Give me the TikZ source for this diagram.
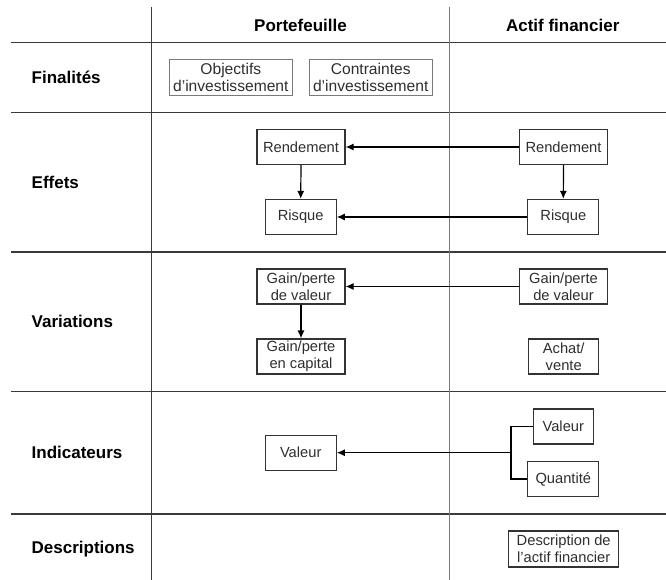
\documentclass[tikz,border=0pt]{standalone}
\usepackage{fontspec}
\setmainfont{Liberation Sans}
\usetikzlibrary{arrows.meta}
\definecolor{gridline}{HTML}{3A3A3A}
\definecolor{gridlight}{HTML}{7A7A7A}
\definecolor{boxline}{HTML}{333333}
\definecolor{boxtext}{HTML}{2E2E2E}
\tikzset{
  gridrule/.style={draw=gridline, line width=1.4pt},
  gridsoft/.style={draw=gridlight, line width=1.4pt},
  entity/.style={draw=boxline, line width=1.2pt, rectangle, inner sep=0pt,
    minimum height=35pt, align=center, text=boxtext,
    font=\fontsize{14.7}{16.7}\selectfont},
  goalbox/.style={entity, draw=gridlight, minimum height=36pt,
    font=\fontsize{15.6}{16.7}\selectfont},
  rowlabel/.style={anchor=west, inner sep=0pt, font=\fontsize{17}{20}\selectfont\bfseries},
  colhead/.style={inner sep=0pt, font=\fontsize{17}{20}\selectfont\bfseries},
  flow/.style={draw=black, line width=1.2pt, -{Latex[length=8pt,width=7pt]}},
  link/.style={draw=black, line width=1.2pt}
}
\begin{document}
\begin{tikzpicture}[x=1pt, y=-1pt]
\useasboundingbox (0,0) rectangle (666,580);

% table rules
\draw[gridrule] (11,42.3) -- (666,42.3);
\draw[gridrule] (11,112.3) -- (666,112.3);
\draw[gridrule] (11,252) -- (666,252);
\draw[gridrule] (11,391.7) -- (666,391.7);
\draw[gridrule] (11,514) -- (666,514);
\draw[gridrule] (151.7,7.5) -- (151.7,580);
\draw[gridsoft] (449.3,7.5) -- (449.3,580);

% column headings
\node[colhead] (hP) at (300.5,25) {Portefeuille};
\node[colhead] (hA) at (562.7,25) {Actif financier};

% row headings
\node[rowlabel] (rFin) at (31.5,77) {Finalités};
\node[rowlabel] (rEff) at (31.5,182) {Effets};
\node[rowlabel] (rVar) at (31.5,321) {Variations};
\node[rowlabel] (rInd) at (31.5,452) {Indicateurs};
\node[rowlabel] (rDes) at (31.5,549) {Descriptions};

% goals
\node[goalbox, minimum width=123pt] (obj) at (230.8,77.5) {Objectifs\\d’investissement};
\node[goalbox, minimum width=123pt] (contr) at (370.7,77.5) {Contraintes\\d’investissement};

% effects
\node[entity, minimum width=88pt] (rendP) at (301,147) {Rendement};
\node[entity, minimum width=88pt] (rendA) at (563.5,147) {Rendement};
\node[entity, minimum width=71pt] (risqP) at (300.7,217) {Risque};
\node[entity, minimum width=71pt] (risqA) at (563.3,217) {Risque};

% variations
\node[entity, minimum width=88pt] (gvP) at (301,286.5) {Gain/perte\\de valeur};
\node[entity, minimum width=88pt] (gvA) at (563.5,286.5) {Gain/perte\\de valeur};
\node[entity, minimum width=88pt] (gcP) at (301,356.5) {Gain/perte\\en capital};
\node[entity, minimum width=70pt] (achat) at (563.7,356.5) {Achat/\\vente};

% indicators
\node[entity, minimum width=71pt] (valP) at (300.7,452.7) {Valeur};
\node[entity, minimum width=60pt] (valA) at (563.3,426.5) {Valeur};
\node[entity, minimum width=71pt] (qte) at (563.3,479) {Quantité};
\coordinate (br) at (511,452.7);

% description
\node[entity, minimum width=110pt, minimum height=36pt] (desc) at (563.7,549) {Description de\\l’actif financier};

% connectors
\draw[flow] (rendA.west) -- (rendP.east);
\draw[flow] (risqA.west) -- (risqP.east);
\draw[flow] (rendP.south) -- (risqP.north);
\draw[flow] (rendA.south) -- (risqA.north);
\draw[flow] (gvA.west) -- (gvP.east);
\draw[flow] (gvP.south) -- (gcP.north);
\draw[link] (valA.west) -- (valA.west -| br) -- (qte.west -| br) -- (qte.west);
\draw[flow] (br) -- (valP.east);
\end{tikzpicture}
\end{document}
